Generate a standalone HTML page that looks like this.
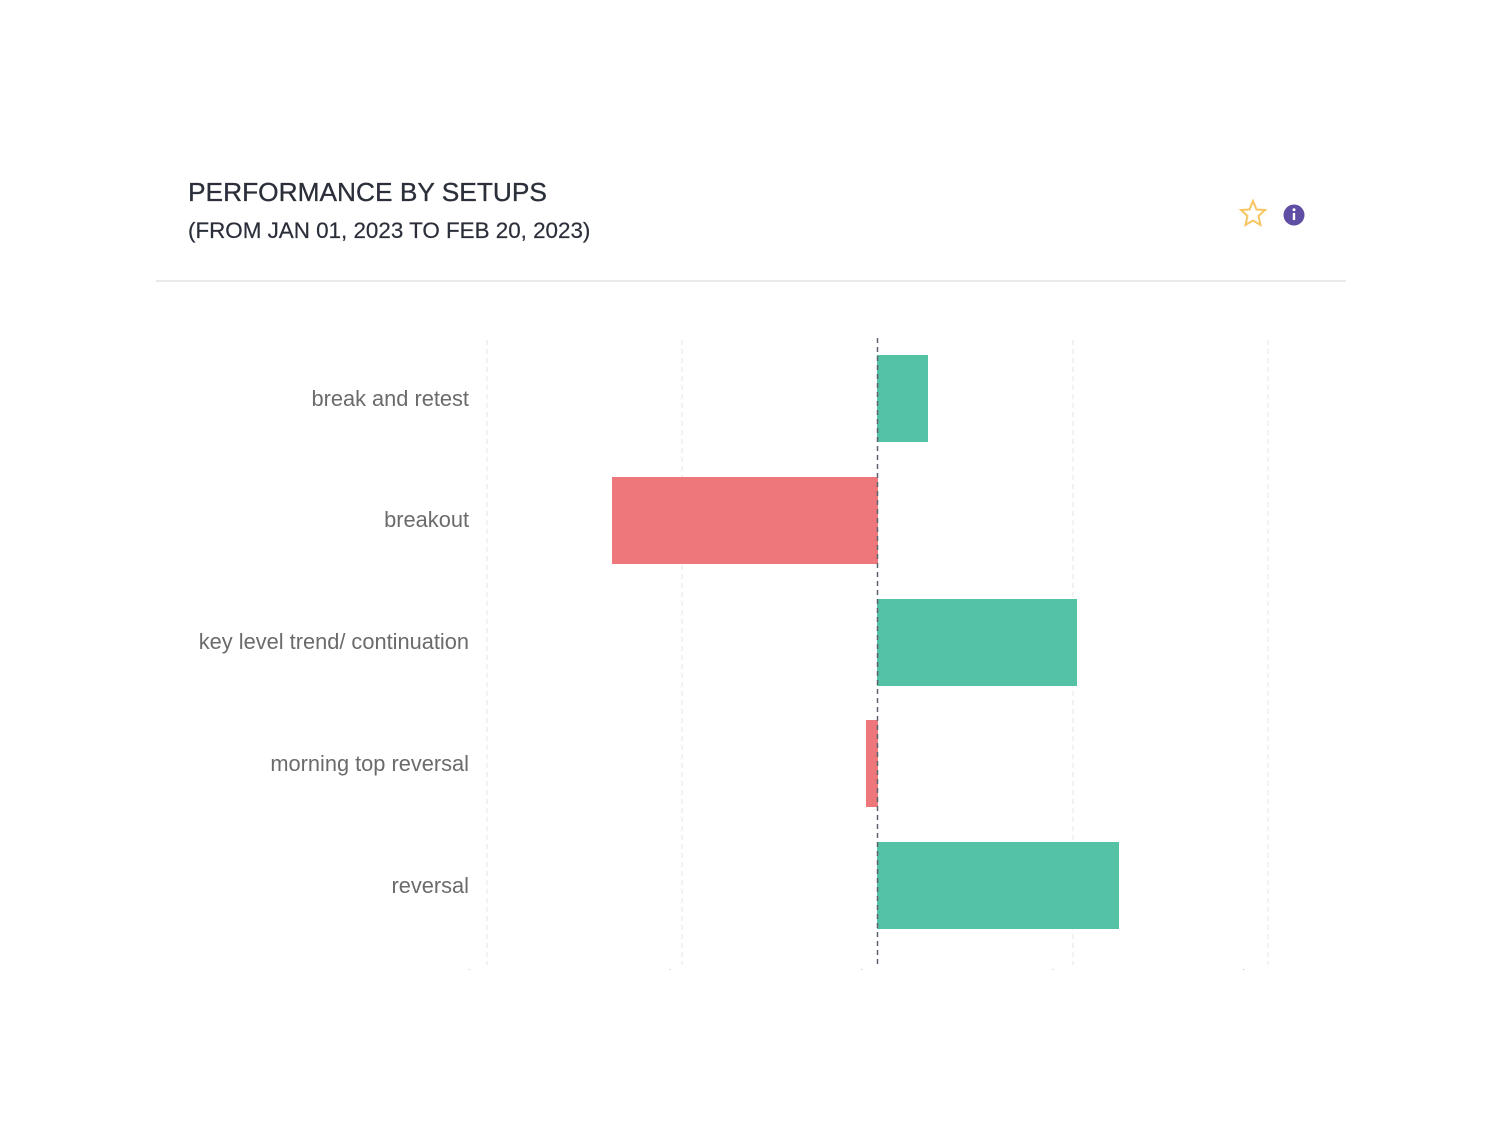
<!DOCTYPE html>
<html><head><style>
body{margin:0;background:#fff;width:1502px;height:1126px;overflow:hidden;font-family:"Liberation Sans",sans-serif}
.t1{position:absolute;left:188px;top:177px;font-size:26.3px;color:#2b2f3a;-webkit-text-stroke:0.3px #2b2f3a}
.t2{position:absolute;left:188px;top:218px;font-size:22.4px;color:#2b2f3a;-webkit-text-stroke:0.2px #2b2f3a}
</style></head><body>
<div class="t1">PERFORMANCE BY SETUPS</div>
<div class="t2">(FROM JAN 01, 2023 TO FEB 20, 2023)</div>
<svg style="position:absolute;left:0;top:0" width="1502" height="1126">
<line x1="156" y1="281" x2="1346" y2="281" stroke="#e2e2e2" stroke-width="1.5"/>
<polygon points="1253,201 1256.5,209.5 1265,210 1258.5,216 1260.5,225 1253,220.5 1245.5,225 1247.5,216 1241,210 1249.5,209.5" fill="none" stroke="#f7c562" stroke-width="2"/>
<circle cx="1294" cy="215" r="10.5" fill="#5f4ea3"/>
<rect x="1292.8" y="213" width="2.4" height="7" fill="#fff"/><circle cx="1294" cy="209.8" r="1.5" fill="#fff"/>
<g stroke="#e6e6e6" stroke-dasharray="5,4" stroke-width="1">
<line x1="487" y1="340" x2="487" y2="965"/><line x1="682" y1="340" x2="682" y2="965"/>
<line x1="1073" y1="340" x2="1073" y2="965"/><line x1="1268" y1="340" x2="1268" y2="965"/>
</g>
<rect x="877" y="355" width="51" height="87" fill="#54c2a5"/>
<rect x="612" y="477" width="266" height="87" fill="#ee777b"/>
<rect x="877" y="599" width="200" height="87" fill="#54c2a5"/>
<rect x="866" y="720" width="12" height="87" fill="#ee777b"/>
<rect x="877" y="842" width="242" height="87" fill="#54c2a5"/>
<line x1="877.5" y1="338" x2="877.5" y2="965" stroke="#5a6270" stroke-width="1.5" stroke-dasharray="5,4"/>
<g font-size="21.8" fill="#6b6b6b" text-anchor="end">
<text x="469" y="406">break and retest</text>
<text x="469" y="527">breakout</text>
<text x="469" y="649">key level trend/ continuation</text>
<text x="469" y="771">morning top reversal</text>
<text x="469" y="893">reversal</text>
</g>
<clipPath id="c"><rect x="0" y="0" width="1502" height="970"/></clipPath>
<g clip-path="url(#c)" font-size="16" fill="#777" text-anchor="middle">
<text x="491" y="981">-$100.00</text><text x="687" y="981">-$50.00</text>
<text x="877" y="981">$0.00</text><text x="1073" y="981">$50.00</text><text x="1268" y="981">$100.00</text>
</g>
</svg>
</body></html>
